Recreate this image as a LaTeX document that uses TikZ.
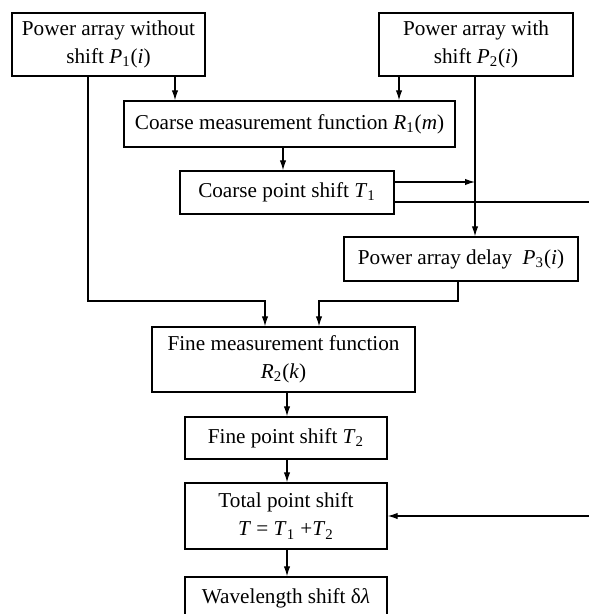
\documentclass[tikz,border=0pt]{standalone}
\usepackage{fontspec}
\setmainfont{Liberation Serif}
\usetikzlibrary{arrows.meta}
\begin{document}
\begin{tikzpicture}[x=0.5pt,y=-0.5pt,
  box/.style={draw,line width=0.65pt,rectangle,align=center,inner sep=0pt,
    font=\fontsize{10.6}{14}\selectfont},
  conn/.style={line width=0.6pt},
  arr/.style={conn,-{Latex[length=5pt,width=3.2pt]}}]
\useasboundingbox (0,0) rectangle (588,614);
\node[box,minimum width=96.5pt,minimum height=31.5pt] (b1) at (108.5,44.5) {Power array without\\shift \textit{P}\textsubscript{1}(\textit{i})};
\node[box,minimum width=97pt,minimum height=31.5pt] (b2) at (476,44.5) {Power array with\\shift \textit{P}\textsubscript{2}(\textit{i})};
\node[box,minimum width=165.5pt,minimum height=23pt] (r1) at (289.5,124) {Coarse measurement function \textit{R}\textsubscript{1}(\textit{m})};
\node[box,minimum width=107pt,minimum height=21.5pt] (t1) at (287,192.5) {Coarse point shift \textit{T}\textsubscript{1}};
\node[box,minimum width=117pt,minimum height=22pt] (p3) at (461,259) {Power array delay~~\textit{P}\textsubscript{3}(\textit{i})};
\node[box,minimum width=131.5pt,minimum height=32.5pt] (r2) at (283.5,359.5) {Fine measurement function\\\textit{R}\textsubscript{2}(\textit{k})};
\node[box,minimum width=101pt,minimum height=21pt] (t2) at (286,438) {Fine point shift \textit{T}\textsubscript{2}};
\node[box,minimum width=101pt,minimum height=33pt] (tt) at (286,516) {Total point shift\\\textit{T} = \textit{T}\textsubscript{1} +\textit{T}\textsubscript{2}};
\node[box,minimum width=101pt,minimum height=21.5pt] (w) at (286,598.5) {Wavelength shift δ\textit{λ}};
\coordinate (xa) at (175,0);
\coordinate (xb) at (399,0);
\coordinate (xc) at (475,0);
\coordinate (xd) at (283,0);
\coordinate (xe) at (88,0);
\coordinate (xf) at (265,0);
\coordinate (xg) at (319,0);
\coordinate (xh) at (458,0);
\coordinate (xi) at (287,0);
\coordinate (xr) at (592,0);
\coordinate (ya) at (0,182);
\coordinate (yb) at (0,202);
\coordinate (yc) at (0,301);
\draw[arr] (b1.south -| xa) -- (r1.north -| xa);
\draw[arr] (b2.south -| xb) -- (r1.north -| xb);
\draw[arr] (b2.south -| xc) -- (p3.north -| xc);
\draw[arr] (r1.south -| xd) -- (t1.north -| xd);
\draw[arr] (t1.east |- ya) -- (xc |- ya);
\draw[arr] (t1.east |- yb) -| (xr |- tt.east) -- (tt.east);
\draw[arr] (b1.south -| xe) |- (yc -| xf) -- (r2.north -| xf);
\draw[arr] (p3.south -| xh) |- (yc -| xg) -- (r2.north -| xg);
\draw[arr] (r2.south -| xi) -- (t2.north -| xi);
\draw[arr] (t2.south -| xi) -- (tt.north -| xi);
\draw[arr] (tt.south -| xi) -- (w.north -| xi);
\end{tikzpicture}
\end{document}
